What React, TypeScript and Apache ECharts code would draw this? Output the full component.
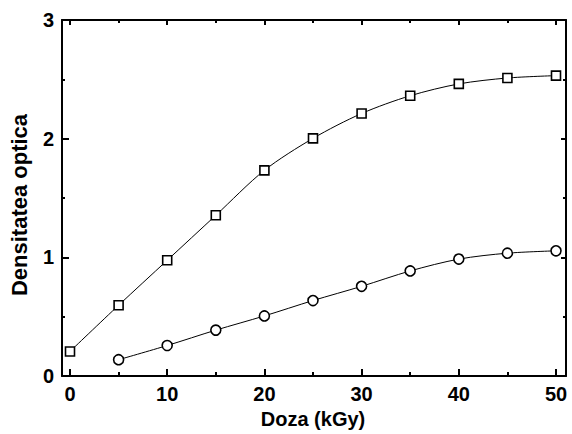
import React, { useEffect, useRef } from "react";
import * as echarts from "echarts";

const doses = [0, 5, 10, 15, 20, 25, 30, 35, 40, 45, 50];
const squareValues = [0.2, 0.59, 0.97, 1.35, 1.73, 2.0, 2.21, 2.36, 2.46, 2.51, 2.53];
const circleDoses = [5, 10, 15, 20, 25, 30, 35, 40, 45, 50];
const circleValues = [0.13, 0.25, 0.38, 0.5, 0.63, 0.75, 0.88, 0.98, 1.03, 1.05];
const xMin = 0;
const xMax = 50;
const xStep = 10;
const yMin = 0;
const yMax = 3;
const yStep = 1;

const FONT = '"Liberation Sans", Arial, Helvetica, sans-serif';

export default function App() {
  const ref = useRef<HTMLDivElement>(null);
  useEffect(() => {
    document.body.style.margin = "0";
    const chart = echarts.init(ref.current!, null, { renderer: "svg" });
    const black = "#000";
    const frameLine = { show: true, onZero: false, lineStyle: { color: black, width: 2 } };
    const hiddenLine = { show: false, onZero: false };
    const tickStyle = { color: black, width: 2 };
    const labelStyle = { color: black, fontSize: 20, fontWeight: "bold", fontFamily: FONT };
    chart.setOption({
      animation: false,
      backgroundColor: "#fff",
      grid: [
        // data grid: 0..50 spans 70..556
        { left: 70, right: 16, top: 20, bottom: 58 },
        // frame grid: full box 61..566
        { left: 61, right: 6, top: 20, bottom: 58 },
      ],
      xAxis: [
        {
          gridIndex: 0,
          type: "value",
          position: "bottom",
          min: xMin,
          max: xMax,
          interval: xStep,
          axisLine: hiddenLine,
          axisTick: { show: true, inside: true, length: 6, lineStyle: tickStyle },
          minorTick: { show: true, splitNumber: 2, length: 3, lineStyle: tickStyle },
          axisLabel: { ...labelStyle, margin: 9 },
          splitLine: { show: false },
          minorSplitLine: { show: false },
          name: "Doza (kGy)",
          nameLocation: "middle",
          nameGap: 31,
          nameTextStyle: { ...labelStyle, fontSize: 20 },
          z: 10,
        },
        {
          gridIndex: 0,
          type: "value",
          position: "top",
          min: xMin,
          max: xMax,
          interval: xStep,
          axisLine: hiddenLine,
          axisTick: { show: true, inside: true, length: 5, lineStyle: tickStyle },
          minorTick: { show: true, splitNumber: 2, length: 3, lineStyle: tickStyle },
          axisLabel: { show: false },
          splitLine: { show: false },
          minorSplitLine: { show: false },
        },
        {
          gridIndex: 1,
          type: "value",
          position: "bottom",
          min: 0,
          max: 1,
          axisLine: frameLine,
          axisTick: { show: false },
          axisLabel: { show: false },
          splitLine: { show: false },
        },
        {
          gridIndex: 1,
          type: "value",
          position: "top",
          min: 0,
          max: 1,
          axisLine: frameLine,
          axisTick: { show: false },
          axisLabel: { show: false },
          splitLine: { show: false },
        },
      ],
      yAxis: [
        {
          gridIndex: 0,
          type: "value",
          min: yMin,
          max: yMax,
          interval: yStep,
          show: false,
          axisLine: hiddenLine,
        },
        {
          gridIndex: 1,
          type: "value",
          position: "left",
          min: yMin,
          max: yMax,
          interval: yStep,
          axisLine: frameLine,
          axisTick: { show: true, inside: true, length: 7, lineStyle: tickStyle },
          minorTick: { show: true, splitNumber: 2, length: 3, lineStyle: tickStyle },
          axisLabel: { ...labelStyle, margin: 8 },
          splitLine: { show: false },
          minorSplitLine: { show: false },
          name: "Densitatea optica",
          nameLocation: "middle",
          nameGap: 32,
          nameTextStyle: { ...labelStyle, fontSize: 22, padding: [0, 14, 0, 0] },
        },
        {
          gridIndex: 1,
          type: "value",
          position: "right",
          min: yMin,
          max: yMax,
          interval: yStep,
          axisLine: frameLine,
          axisTick: { show: true, inside: true, length: 5, lineStyle: tickStyle },
          minorTick: { show: true, splitNumber: 2, length: 3, lineStyle: tickStyle },
          axisLabel: { show: false },
          splitLine: { show: false },
          minorSplitLine: { show: false },
        },
      ],
      series: [
        {
          type: "line",
          xAxisIndex: 0,
          yAxisIndex: 0,
          data: doses.map((d, i) => [d, squareValues[i]]),
          smooth: 0.3,
          symbol: "rect",
          symbolSize: 9,
          showAllSymbol: true,
          clip: false,
          lineStyle: { color: black, width: 1 },
          itemStyle: { color: "#fff", borderColor: black, borderWidth: 1.6 },
          z: 3,
        },
        {
          type: "line",
          xAxisIndex: 0,
          yAxisIndex: 0,
          data: circleDoses.map((d, i) => [d, circleValues[i]]),
          smooth: 0.3,
          symbol: "circle",
          symbolSize: 10,
          showAllSymbol: true,
          clip: false,
          lineStyle: { color: black, width: 1 },
          itemStyle: { color: "#fff", borderColor: black, borderWidth: 1.6 },
          z: 3,
        },
      ],
    });
    return () => chart.dispose();
  }, []);
  return <div ref={ref} style={{ width: 572, height: 434 }} />;
}
